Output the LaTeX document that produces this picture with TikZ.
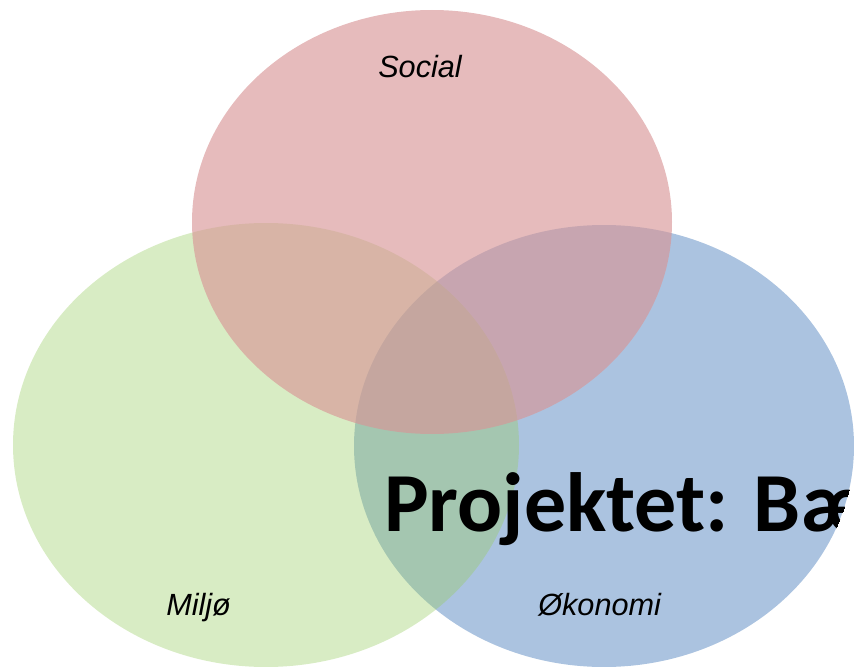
\documentclass[tikz,border=0pt]{standalone}
\usepackage{fontspec}
\setmainfont{Liberation Sans}
\newfontfamily\titlefont{Carlito}

\definecolor{socialred}{RGB}{216,149,150}
\definecolor{miljogreen}{RGB}{150,204,95}
\definecolor{okoblue}{HTML}{4F81BD}

\tikzset{
  circlelabel/.style={anchor=base west, inner sep=0pt, font=\fontsize{23}{28}\selectfont\itshape},
  titletext/.style={anchor=base west, inner sep=0pt, font=\titlefont\bfseries\fontsize{63}{70}\selectfont}
}

\begin{document}
\begin{tikzpicture}[x=0.75pt,y=-0.75pt]
  \useasboundingbox (0,0) rectangle (854,667);
  \clip (0,0) rectangle (854,667);

  % centers
  \coordinate (social) at (432,222);
  \coordinate (miljo) at (266,445);
  \coordinate (okonomi) at (604,446);

  % ellipses
  \fill[okoblue, fill opacity=0.475] (okonomi) ellipse [x radius=250, y radius=221];
  \fill[miljogreen, fill opacity=0.37] (miljo) ellipse [x radius=253, y radius=222];
  \fill[socialred, fill opacity=0.64] (social) ellipse [x radius=240, y radius=212];

  % labels
  \node[circlelabel] (sociallabel) at (378,78) {Social};
  \node[circlelabel] (miljolabel) at (166,615) {Miljø};
  \node[circlelabel] (okonomilabel) at (538,615) {Økonomi};

  % title, cut off by the blue ellipse
  \begin{scope}
    \clip (okonomi) ellipse [x radius=250, y radius=221];
    \node[titletext] (title) at (384,531) {Projektet: Bæ};
  \end{scope}
\end{tikzpicture}
\end{document}
